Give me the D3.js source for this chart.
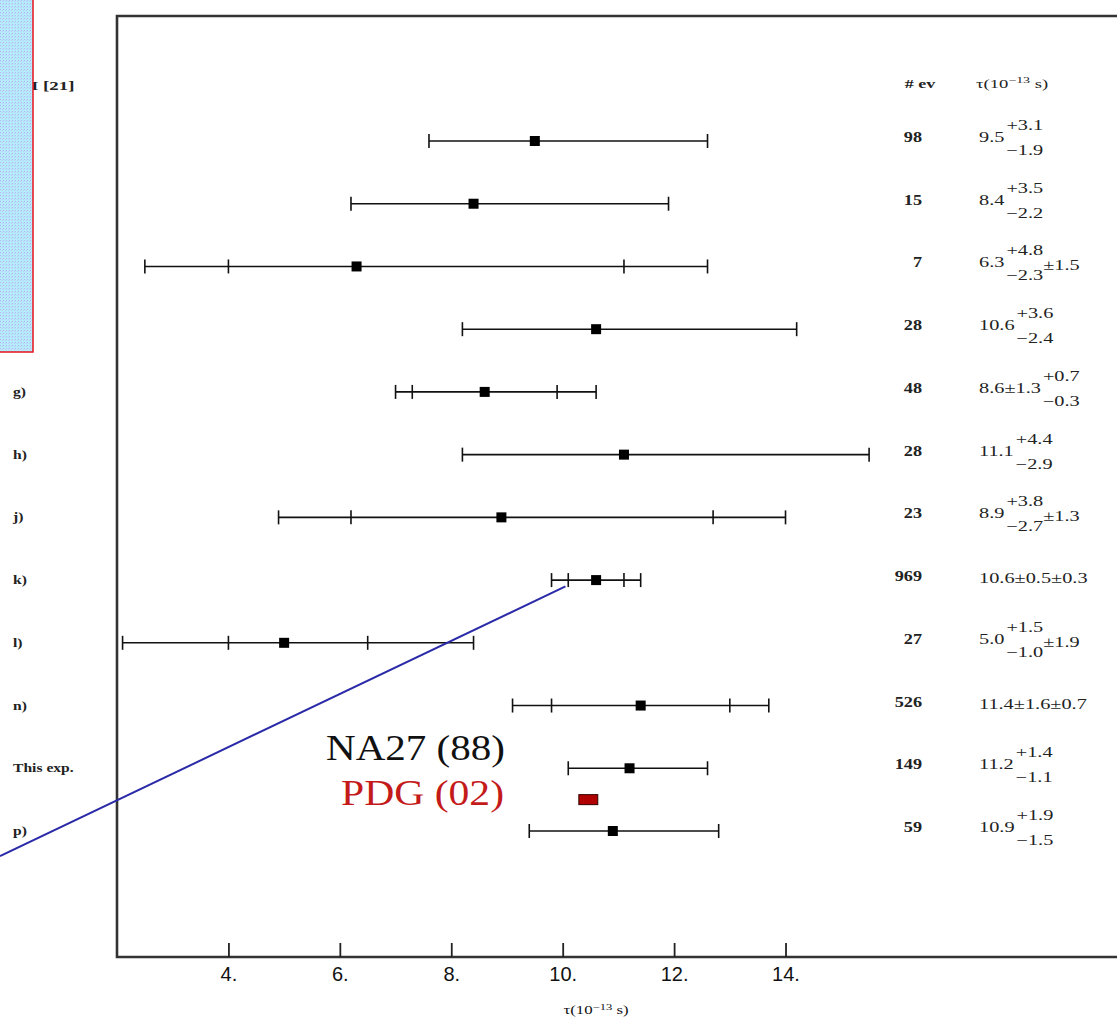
<!DOCTYPE html>
<html lang="en">
<head>
<meta charset="UTF-8">
<title>Lifetime measurements</title>
<script src="https://cdnjs.cloudflare.com/ajax/libs/d3/7.8.5/d3.min.js"></script>
<style>
body{ margin:0; background:#fff; }
svg{ display:block; }
.serif{ font-family:"Liberation Serif","DejaVu Serif",serif; }
.tick text{ font-family:"Liberation Sans",Arial,sans-serif; font-size:20px; fill:#111; }
</style>
</head>
<body>
<div id="chart"></div>
<script>
// row labels, number of events, lifetimes (10^-13 s) and errors
var labels   = ['', '', '', '', 'g)', 'h)', 'j)', 'k)', 'l)', 'n)', 'This exp.', 'p)'];
var nev      = [98, 15, 7, 28, 48, 28, 23, 969, 27, 526, 149, 59];
var tau      = [9.5, 8.4, 6.3, 10.6, 8.6, 11.1, 8.9, 10.6, 5.0, 11.4, 11.2, 10.9];
var statUp   = [3.1, 3.5, 4.8, 3.6, 1.3, 4.4, 3.8, 0.5, 1.5, 1.6, 1.4, 1.9];
var statDown = [1.9, 2.2, 2.3, 2.4, 1.3, 2.9, 2.7, 0.5, 1.0, 1.6, 1.1, 1.5];
var sysUp    = [0, 0, 1.5, 0, 0.7, 0, 1.3, 0.3, 1.9, 0.7, 0, 0];
var sysDown  = [0, 0, 1.5, 0, 0.3, 0, 1.3, 0.3, 1.9, 0.7, 0, 0];
var xTicks   = [4, 6, 8, 10, 12, 14];

// PDG average box and the blue annotation line (data units: tau, row)
var pdgValue = 10.46, pdgHalf = 0.17, pdgRow = 10.5;
var blueLine = [[-0.1, 11.4], [10.05, 7.1]];

var W = 1117, H = 1018;
var svg = d3.select('#chart').append('svg').attr('width', W).attr('height', H);

var x = d3.scaleLinear().domain([2, 19.95]).range([117, 1117]);
var y = d3.scaleLinear().domain([0, 11]).range([141, 831]);
var axisY = 957, topY = 16;

// the scanned text is wider than the font, so stretch it
function stretch(sel, k){
  sel.each(function(){
    var n = this, len = n.getComputedTextLength();
    d3.select(n).attr('textLength', len * k).attr('lengthAdjust', 'spacingAndGlyphs');
  });
  return sel;
}

// frame
svg.append('path')
  .attr('d', 'M' + W + ',' + topY + 'H117V' + axisY + 'H' + W)
  .attr('fill', 'none').attr('stroke', '#333').attr('stroke-width', 2.6);

// x axis with inward ticks
var xAxis = d3.axisBottom(x).tickValues(xTicks)
  .tickFormat(function(d){ return d + '.'; })
  .tickSizeInner(-14).tickSizeOuter(0).tickPadding(10);
var gx = svg.append('g').attr('transform', 'translate(0,' + axisY + ')').call(xAxis);
gx.select('.domain').remove();
gx.selectAll('.tick line').attr('stroke', '#222').attr('stroke-width', 1.8);

stretch(svg.append('text').attr('class', 'serif')
  .attr('x', 596).attr('y', 1014).attr('text-anchor', 'middle')
  .attr('font-size', 12).attr('fill', '#111')
  .html('τ(10<tspan dy="-4" font-size="9">−13</tspan><tspan dy="4"> s)</tspan>'), 1.4);

// error bars
var rows = svg.append('g').selectAll('g').data(tau).enter().append('g')
  .attr('transform', function(d, i){ return 'translate(0,' + y(i) + ')'; });

rows.append('line')
  .attr('x1', function(d, i){ return x(d - statDown[i] - sysDown[i]); })
  .attr('x2', function(d, i){ return x(d + statUp[i] + sysUp[i]); })
  .attr('stroke', '#111').attr('stroke-width', 1.6);

rows.each(function(d, i){
  var caps = [d - statDown[i], d + statUp[i]];
  if (sysDown[i] > 0) caps.push(d - statDown[i] - sysDown[i]);
  if (sysUp[i] > 0) caps.push(d + statUp[i] + sysUp[i]);
  d3.select(this).selectAll('line.cap').data(caps).enter().append('line')
    .attr('class', 'cap')
    .attr('x1', function(c){ return x(c); }).attr('x2', function(c){ return x(c); })
    .attr('y1', -7).attr('y2', 7)
    .attr('stroke', '#111').attr('stroke-width', 1.6);
});

rows.append('rect')
  .attr('x', function(d){ return x(d) - 5; }).attr('y', -5)
  .attr('width', 10).attr('height', 10).attr('fill', '#000');

// left labels
stretch(rows.append('text').attr('class', 'serif')
  .attr('x', 13).attr('y', 4).attr('font-size', 13).attr('font-weight', 'bold')
  .attr('fill', '#222')
  .text(function(d, i){ return labels[i]; }), 1.2);

// number of events
stretch(rows.append('text').attr('class', 'serif')
  .attr('x', 922).attr('y', 1).attr('text-anchor', 'end')
  .attr('font-size', 14).attr('font-weight', 'bold').attr('fill', '#222')
  .text(function(d, i){ return nev[i]; }), 1.3);

// lifetime text, built from the values
var K = 1.45;
rows.each(function(d, i){
  var g = d3.select(this);
  var f = function(v){ return v.toFixed(1); };
  var base = f(d), sup = null, sub = null, tail = '';
  var statSym = statUp[i] === statDown[i];
  var sysSym = sysUp[i] === sysDown[i];
  if (statSym) {
    base += '±' + f(statUp[i]);
    if (sysUp[i] > 0 && sysSym) base += '±' + f(sysUp[i]);
    else if (sysUp[i] > 0) { sup = '+' + f(sysUp[i]); sub = '−' + f(sysDown[i]); }
  } else {
    sup = '+' + f(statUp[i]); sub = '−' + f(statDown[i]);
    if (sysUp[i] > 0) tail = '±' + f(sysUp[i]);
  }
  var x0 = 979;
  var t = stretch(g.append('text').attr('class', 'serif').attr('x', x0).attr('y', sup ? 1 : 3)
    .attr('font-size', 14).attr('fill', '#222').text(base), K);
  if (sup) {
    var sx = x0 + (+t.attr('textLength')) + 2;
    var ts = stretch(g.append('text').attr('class', 'serif').attr('x', sx).attr('y', -11)
      .attr('font-size', 14).attr('fill', '#222').text(sup), K);
    var tb = stretch(g.append('text').attr('class', 'serif').attr('x', sx).attr('y', 14)
      .attr('font-size', 14).attr('fill', '#222').text(sub), K);
    if (tail) {
      var w = Math.max(+ts.attr('textLength'), +tb.attr('textLength'));
      stretch(g.append('text').attr('class', 'serif').attr('x', sx + w).attr('y', 4)
        .attr('font-size', 14).attr('fill', '#222').text(tail), K);
    }
  }
});

// column headers
stretch(svg.append('text').attr('class', 'serif')
  .attr('x', 920).attr('y', 88).attr('text-anchor', 'middle')
  .attr('font-size', 12).attr('font-weight', 'bold').attr('fill', '#222').text('# ev'), 1.5);
stretch(svg.append('text').attr('class', 'serif')
  .attr('x', 976).attr('y', 88).attr('font-size', 12).attr('fill', '#222')
  .html('τ(10<tspan dy="-5" font-size="9">−13</tspan><tspan dy="5"> s)</tspan>'), 1.55);

// PDG average
svg.append('rect')
  .attr('x', x(pdgValue - pdgHalf)).attr('y', y(pdgRow) - 5)
  .attr('width', x(pdgValue + pdgHalf) - x(pdgValue - pdgHalf)).attr('height', 10)
  .attr('fill', '#b00000').attr('stroke', '#300').attr('stroke-width', 1);

// annotations
var na = svg.append('text').attr('class', 'serif')
  .attr('x', 505).attr('y', 760).attr('text-anchor', 'end')
  .attr('font-size', 36).attr('fill', '#111').text('NA27 (88)');
na.attr('textLength', 179).attr('lengthAdjust', 'spacingAndGlyphs');
var pdg = svg.append('text').attr('class', 'serif')
  .attr('x', 504).attr('y', 805).attr('text-anchor', 'end')
  .attr('font-size', 35).attr('fill', '#c41a1a').text('PDG (02)');
pdg.attr('textLength', 163).attr('lengthAdjust', 'spacingAndGlyphs');

svg.append('line')
  .attr('x1', x(blueLine[0][0])).attr('y1', y(blueLine[0][1]))
  .attr('x2', x(blueLine[1][0])).attr('y2', y(blueLine[1][1]))
  .attr('stroke', '#2a2aa8').attr('stroke-width', 2);

// reference label partly under the overlay box
stretch(svg.append('text').attr('class', 'serif')
  .attr('x', 31).attr('y', 90).attr('font-size', 13).attr('font-weight', 'bold')
  .attr('fill', '#222').text('I [21]'), 1.45);

// light blue overlay box with red edge
var pat = svg.append('defs').append('pattern').attr('id', 'dots')
  .attr('width', 3).attr('height', 3).attr('patternUnits', 'userSpaceOnUse');
pat.append('rect').attr('width', 3).attr('height', 3).attr('fill', '#b4ecfb');
pat.append('rect').attr('width', 1).attr('height', 1).attr('fill', '#b8b0f4');
pat.append('rect').attr('x', 2).attr('y', 1).attr('width', 1).attr('height', 1).attr('fill', '#c0c8f8');
svg.append('rect')
  .attr('x', -2).attr('y', -2).attr('width', 35).attr('height', 354)
  .attr('fill', 'url(#dots)').attr('stroke', '#e8141c').attr('stroke-width', 1.5);
</script>
</body>
</html>
